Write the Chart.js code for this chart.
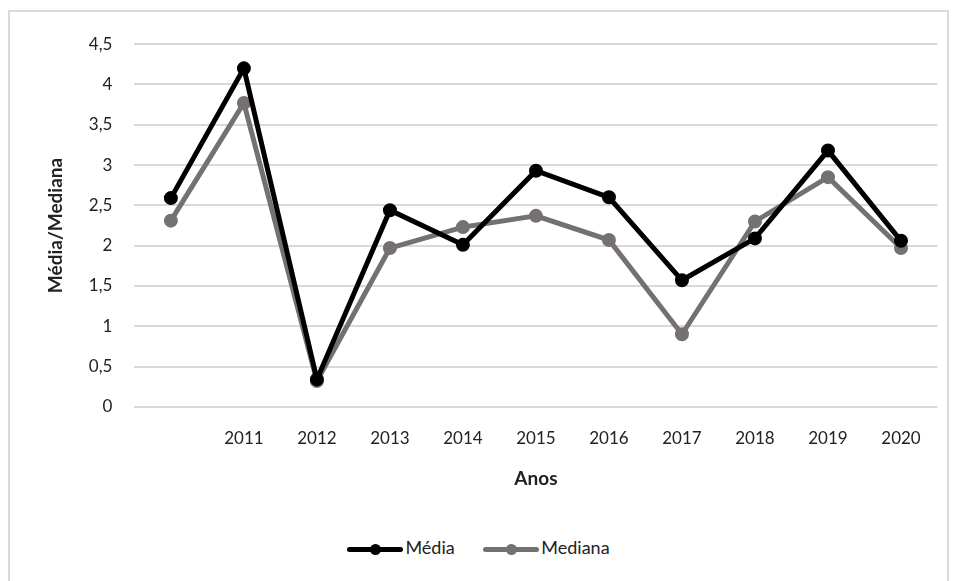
<!DOCTYPE html>
<html>
<head>
<meta charset="utf-8">
<script src="https://cdn.jsdelivr.net/npm/chart.js@4"></script>
<style>
  body { margin: 0; background: #fff; font-family: Lato, sans-serif; }
  #box {
    position: absolute; left: 8px; top: 10px; width: 937px; height: 570px;
    border: 2px solid #d9d9d9; border-bottom: none; background: #fff;
  }
  #wrap { position: absolute; left: 0; top: 0; width: 937px; height: 482px; }
  #legend {
    position: absolute; left: 0; top: 524px; width: 937px; text-align: center;
    font-size: 18px; color: #222;
  }
  .item { display: inline-block; margin: 0 12px; }
  .mark { display: inline-block; position: relative; width: 56px; height: 5px; vertical-align: middle; margin-right: 2px; border-radius: 3px; }
  .mark::after { content: ""; position: absolute; left: 23px; top: -3px; width: 11px; height: 11px; border-radius: 50%; background: inherit; }
</style>
</head>
<body>
<div id="box">
  <div id="wrap"><canvas id="chartLine"></canvas></div>
  <div id="legend">
    <span class="item"><span class="mark" style="background:#000"></span>Média</span>
    <span class="item"><span class="mark" style="background:#767171"></span>Mediana</span>
  </div>
</div>
<script>
const anos = ["", "2011", "2012", "2013", "2014", "2015", "2016", "2017", "2018", "2019", "2020"];
const media = [2.59, 4.2, 0.34, 2.44, 2.01, 2.93, 2.6, 1.57, 2.09, 3.18, 2.06];
const mediana = [2.31, 3.77, 0.32, 1.97, 2.23, 2.37, 2.07, 0.9, 2.3, 2.85, 1.97];

const ctxLine = document.getElementById("chartLine").getContext("2d");

new Chart(ctxLine, {
  type: "line",
  data: {
    labels: anos,
    datasets: [
      {
        label: "Média",
        data: media,
        borderColor: "#000000",
        backgroundColor: "#000000",
        borderWidth: 5,
        pointRadius: 4.5,
        pointHoverRadius: 4.5,
        tension: 0,
      },
      {
        label: "Mediana",
        data: mediana,
        borderColor: "#767171",
        backgroundColor: "#767171",
        borderWidth: 5,
        pointRadius: 4.5,
        pointHoverRadius: 4.5,
        tension: 0,
      },
    ],
  },
  options: {
    responsive: true,
    maintainAspectRatio: false,
    animation: false,
    layout: { padding: { top: 17, right: 4, left: 30, bottom: 0 } },
    plugins: {
      legend: { display: false },
      tooltip: { enabled: false },
    },
    scales: {
      x: {
        offset: true,
        grid: { display: false },
        border: { display: false },
        ticks: { color: "#222", font: { family: "Lato", size: 17 }, padding: 14 },
        title: {
          display: true,
          text: "Anos",
          color: "#222",
          font: { family: "Lato", size: 19, weight: "bold" },
          padding: { top: 4 },
        },
      },
      y: {
        min: 0,
        max: 4.5,
        grid: { color: "#d9d9d9", lineWidth: 2, drawTicks: false },
        border: { display: false },
        ticks: {
          stepSize: 0.5,
          padding: 22,
          color: "#222",
          font: { family: "Lato", size: 17 },
          callback: (v) => String(v).replace(".", ","),
        },
        title: {
          display: true,
          text: "Média/Mediana",
          color: "#222",
          font: { family: "Lato", size: 19, weight: "bold" },
          padding: { bottom: 0 },
        },
      },
    },
  },
});
</script>
</body>
</html>
